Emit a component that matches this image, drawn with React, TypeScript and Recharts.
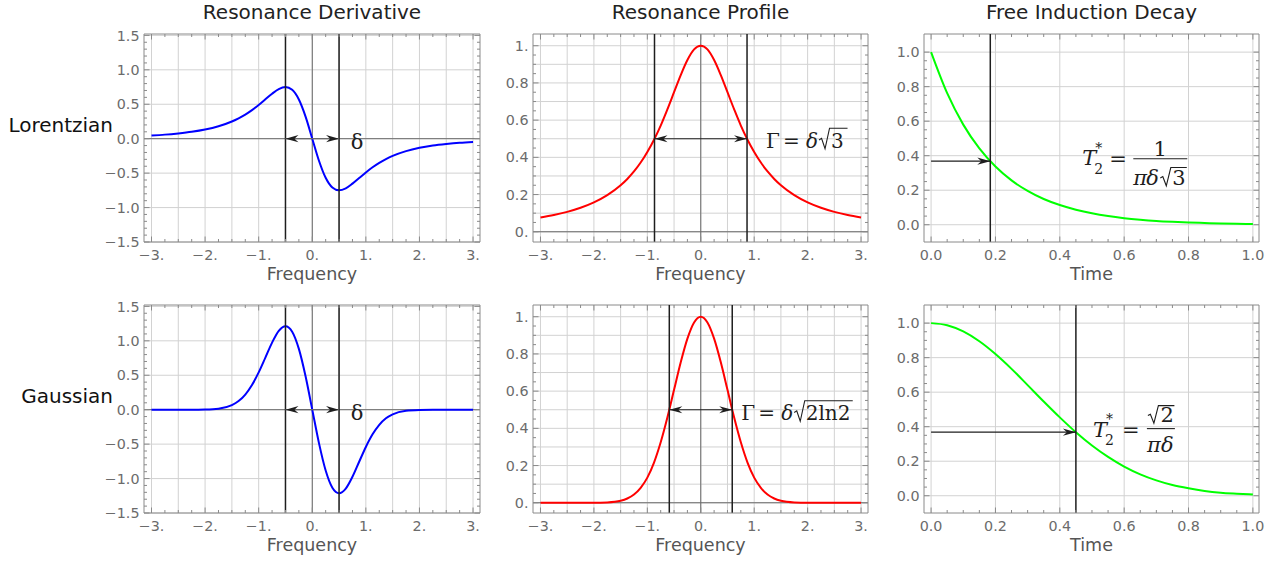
import { LineChart, Line, XAxis, YAxis, ReferenceLine, ReferenceDot } from 'recharts'

// frequency samples (denser near the resonance)
const freqX = [
  -3, -2.75, -2.5, -2.25, -2, -1.75, -1.5, -1.375, -1.25, -1.125, -1, -0.875, -0.75, -0.625, -0.5, -0.375, -0.25,
  -0.125, 0, 0.125, 0.25, 0.375, 0.5, 0.625, 0.75, 0.875, 1, 1.125, 1.25, 1.375, 1.5, 1.75, 2, 2.25, 2.5, 2.75, 3,
]
const lorentzDeriv = [
  0.047, 0.059, 0.077, 0.1, 0.133, 0.181, 0.25, 0.296, 0.35, 0.415, 0.49, 0.572, 0.653, 0.721, 0.75, 0.709, 0.568,
  0.32, 0, -0.32, -0.568, -0.709, -0.75, -0.721, -0.653, -0.572, -0.49, -0.415, -0.35, -0.296, -0.25, -0.181, -0.133,
  -0.1, -0.077, -0.059, -0.047,
]
const lorentzProfile = [
  0.077, 0.09, 0.107, 0.129, 0.158, 0.197, 0.25, 0.284, 0.324, 0.372, 0.429, 0.495, 0.571, 0.658, 0.75, 0.842, 0.923,
  0.98, 1, 0.98, 0.923, 0.842, 0.75, 0.658, 0.571, 0.495, 0.429, 0.372, 0.324, 0.284, 0.25, 0.197, 0.158, 0.129, 0.107,
  0.09, 0.077,
]
const gaussDeriv = [
  0, 0, 0, 0, 0.003, 0.015, 0.067, 0.125, 0.22, 0.358, 0.541, 0.756, 0.974, 1.145, 1.213, 1.133, 0.883, 0.485, 0,
  -0.485, -0.883, -1.133, -1.213, -1.145, -0.974, -0.756, -0.541, -0.358, -0.22, -0.125, -0.067, -0.015, -0.003, 0, 0,
  0, 0,
]
const gaussProfile = [
  0, 0, 0, 0, 0, 0.002, 0.011, 0.023, 0.044, 0.08, 0.135, 0.216, 0.325, 0.458, 0.607, 0.755, 0.882, 0.969, 1, 0.969,
  0.882, 0.755, 0.607, 0.458, 0.325, 0.216, 0.135, 0.08, 0.044, 0.023, 0.011, 0.002, 0, 0, 0, 0, 0,
]

const timeX = [0, 0.05, 0.1, 0.15, 0.2, 0.25, 0.3, 0.35, 0.4, 0.45, 0.5, 0.55, 0.6, 0.65, 0.7, 0.75, 0.8, 0.85, 0.9, 0.95, 1]
const fidLorentz = [
  1, 0.762, 0.58, 0.442, 0.337, 0.257, 0.196, 0.149, 0.114, 0.087, 0.066, 0.05, 0.038, 0.029, 0.022, 0.017, 0.013,
  0.01, 0.0075, 0.0057, 0.0043,
]
const fidGauss = [
  1, 0.988, 0.952, 0.895, 0.821, 0.735, 0.641, 0.546, 0.454, 0.368, 0.291, 0.225, 0.169, 0.124, 0.089, 0.062, 0.043,
  0.028, 0.018, 0.012, 0.007,
]

// marker positions
const derivPeak = 0.5
const lorentzHalfWidth = 0.866
const gaussHalfWidth = 0.589
const halfMax = 0.5
const t2Lorentz = 0.184
const t2Gauss = 0.45
const fidLevel = 0.368

const freqTicks = [-3, -2, -1, 0, 1, 2, 3]
const freqTickLabels = ['−3.', '−2.', '−1.', '0.', '1.', '2.', '3.']
const derivTicks = [-1.5, -1, -0.5, 0, 0.5, 1, 1.5]
const derivTickLabels = ['−1.5', '−1.0', '−0.5', '0.0', '0.5', '1.0', '1.5']
const profileTicks = [0, 0.2, 0.4, 0.6, 0.8, 1]
const profileTickLabels = ['0.', '0.2', '0.4', '0.6', '0.8', '1.']
const timeTicks = [0, 0.2, 0.4, 0.6, 0.8, 1]
const timeTickLabels = ['0.0', '0.2', '0.4', '0.6', '0.8', '1.0']

const titles = ['Resonance Derivative', 'Resonance Profile', 'Free Induction Decay']
const rowNames = ['Lorentzian', 'Gaussian']
const axisTitles = ['Frequency', 'Frequency', 'Time']

const SANS = '"DejaVu Sans", sans-serif'
const SERIF = '"DejaVu Serif", serif'
const FRAME = '#8a8a8a'
const GRID = '#d2d2d2'
const ORIGIN = '#6a6a6a'
const TICK_TEXT = '#6b6b6b'
const INK = '#1e1e1e'

const COLS = [
  { left: 144, width: 336 },
  { left: 533, width: 335 },
  { left: 924, width: 335 },
]
const ROWS = [
  { top: 34, height: 208 },
  { top: 305, height: 208 },
]
const PAD_L = 60
const PAD_R = 12
const PAD_T = 12
const PAD_B = 50

const steps = (lo: number, hi: number, step: number) => {
  const out: number[] = []
  const n = Math.round((hi - lo) / step)
  for (let k = 0; k <= n; k++) out.push(Math.round((lo + k * step) * 1000) / 1000)
  return out
}

const toPoints = (xs: number[], ys: number[]) => xs.map((x, i) => ({ x, y: ys[i] }))

// draws the inward tick on both opposite frame edges, plus the label for major ticks
function makeTick(side: 'bottom' | 'left', major: number[], labels: string[], span: number) {
  return (props: any) => {
    const { x, y, payload } = props
    const i = major.findIndex((m) => Math.abs(m - payload.value) < 1e-6)
    const len = i >= 0 ? 5.5 : 3
    const txt = { fontSize: 14.3, fontFamily: SANS, fill: TICK_TEXT }
    if (side === 'bottom')
      return (
        <g>
          <line x1={x} x2={x} y1={y} y2={y - len} stroke={FRAME} />
          <line x1={x} x2={x} y1={y - span} y2={y - span + len} stroke={FRAME} />
          {i >= 0 && (
            <text x={x} y={y + 18} textAnchor="middle" {...txt}>
              {labels[i]}
            </text>
          )}
        </g>
      )
    return (
      <g>
        <line x1={x} x2={x + len} y1={y} y2={y} stroke={FRAME} />
        <line x1={x + span} x2={x + span - len} y1={y} y2={y} stroke={FRAME} />
        {i >= 0 && (
          <text x={x - 4.5} y={y} dy="0.36em" textAnchor="end" {...txt}>
            {labels[i]}
          </text>
        )}
      </g>
    )
  }
}

const arrowHead = (tx: number, ty: number, dir: number) => {
  const L = 13
  const W = 3.6
  const N = 9
  return `${tx},${ty} ${tx - dir * L},${ty - W} ${tx - dir * N},${ty} ${tx - dir * L},${ty + W}`
}

const arrowShape = (lineColor: string, both: boolean) => (p: any) => (
  <g>
    <line x1={p.x1} y1={p.y1} x2={p.x2} y2={p.y2} stroke={lineColor} strokeWidth={1.2} />
    {both && <polygon points={arrowHead(p.x1, p.y1, -1)} fill={INK} />}
    <polygon points={arrowHead(p.x2, p.y2, 1)} fill={INK} />
  </g>
)

const radical = (x: number, y: number, h: number, w: number) =>
  `M ${x} ${y - h * 0.4} L ${x + 2.5} ${y - h * 0.48} L ${x + 6} ${y + 1} L ${x + 10.5} ${y - h} H ${x + 10.5 + w}`

function DeltaLabel({ cx, cy }: any) {
  return (
    <text x={cx + 18} y={cy + 10.5} textAnchor="middle" fontSize={21} fontFamily={SERIF} fill={INK}>
      δ
    </text>
  )
}

function GammaLorentz({ cx, cy }: any) {
  const x = cx + 19
  const y = cy + 9
  return (
    <g fontFamily={SERIF} fontSize={20} fill={INK}>
      <text x={x} y={y}>Γ</text>
      <text x={x + 17} y={y}>=</text>
      <text x={x + 40} y={y} fontStyle="italic">δ</text>
      <path d={radical(x + 53, y, 19.5, 18)} fill="none" stroke={INK} strokeWidth={1.1} />
      <text x={x + 65} y={y}>3</text>
    </g>
  )
}

function GammaGauss({ cx, cy }: any) {
  const x = cx + 9
  const y = cy + 10.5
  return (
    <g fontFamily={SERIF} fontSize={20} fill={INK}>
      <text x={x} y={y}>Γ</text>
      <text x={x + 17} y={y}>=</text>
      <text x={x + 40} y={y} fontStyle="italic">δ</text>
      <path d={radical(x + 53, y, 19.5, 48)} fill="none" stroke={INK} strokeWidth={1.1} />
      <text x={x + 64.5} y={y}>2ln2</text>
    </g>
  )
}

function T2Lorentz({ cx, cy }: any) {
  const x = cx
  const y = cy
  return (
    <g fontFamily={SERIF} fontSize={21} fill={INK}>
      <text x={x + 92} y={y + 3.6} fontStyle="italic">T</text>
      <text x={x + 104} y={y + 13} fontSize={14}>2</text>
      <text x={x + 105} y={y - 8} fontSize={14}>*</text>
      <text x={x + 119} y={y + 5}>=</text>
      <line x1={x + 143} x2={x + 197} y1={y - 2.4} y2={y - 2.4} stroke={INK} strokeWidth={1.1} />
      <text x={x + 170} y={y - 5.4} textAnchor="middle">1</text>
      <text x={x + 143} y={y + 23.6} fontStyle="italic">π</text>
      <text x={x + 156} y={y + 23.6} fontStyle="italic">δ</text>
      <path d={radical(x + 170, y + 23.6, 17.3, 16)} fill="none" stroke={INK} strokeWidth={1.1} />
      <text x={x + 182} y={y + 23.6}>3</text>
    </g>
  )
}

function T2Gauss({ cx, cy }: any) {
  const x = cx
  const y = cy
  return (
    <g fontFamily={SERIF} fontSize={21} fill={INK}>
      <text x={x + 17} y={y + 5} fontStyle="italic">T</text>
      <text x={x + 29} y={y + 13} fontSize={14}>2</text>
      <text x={x + 30} y={y - 8} fontSize={14}>*</text>
      <text x={x + 46} y={y + 5}>=</text>
      <line x1={x + 71} x2={x + 99} y1={y - 3.6} y2={y - 3.6} stroke={INK} strokeWidth={1.1} />
      <path d={radical(x + 72, y - 10, 16.6, 16)} fill="none" stroke={INK} strokeWidth={1.1} />
      <text x={x + 84.5} y={y - 10}>2</text>
      <text x={x + 71} y={y + 20} fontStyle="italic">π</text>
      <text x={x + 85} y={y + 20} fontStyle="italic">δ</text>
    </g>
  )
}

type PanelProps = {
  col: number
  row: number
  data: { x: number; y: number }[]
  color: string
  xDomain: [number, number]
  yDomain: [number, number]
  xMajor: number[]
  xLabels: string[]
  xMinor: number[]
  xGrid: number[]
  yMajor: number[]
  yLabels: string[]
  yMinor: number[]
  yGrid: number[]
  origin: boolean
  children?: any
}

function Panel(p: PanelProps) {
  const c = COLS[p.col]
  const r = ROWS[p.row]
  return (
    <div style={{ position: 'absolute', left: c.left - PAD_L, top: r.top - PAD_T }}>
      <LineChart
        width={c.width + PAD_L + PAD_R}
        height={r.height + PAD_T + PAD_B}
        data={p.data}
        margin={{ top: PAD_T, right: PAD_R, bottom: 0, left: 0 }}
      >
        <XAxis
          dataKey="x"
          type="number"
          domain={p.xDomain}
          allowDataOverflow
          ticks={p.xMinor}
          interval={0}
          tick={makeTick('bottom', p.xMajor, p.xLabels, r.height)}
          tickLine={false}
          tickSize={0}
          tickMargin={0}
          axisLine={{ stroke: FRAME }}
          height={PAD_B}
        />
        <YAxis
          type="number"
          domain={p.yDomain}
          allowDataOverflow
          ticks={p.yMinor}
          interval={0}
          tick={makeTick('left', p.yMajor, p.yLabels, c.width)}
          tickLine={false}
          tickSize={0}
          tickMargin={0}
          axisLine={{ stroke: FRAME }}
          width={PAD_L}
        />
        {p.xGrid.map((v) => (
          <ReferenceLine key={'gx' + v} x={v} stroke={GRID} />
        ))}
        {p.yGrid.map((v) => (
          <ReferenceLine key={'gy' + v} y={v} stroke={GRID} />
        ))}
        {p.origin && <ReferenceLine x={0} stroke={ORIGIN} />}
        {p.origin && <ReferenceLine y={0} stroke={ORIGIN} />}
        <ReferenceLine y={p.yDomain[1]} stroke={FRAME} />
        <ReferenceLine x={p.xDomain[1]} stroke={FRAME} />
        <Line
          dataKey="y"
          type="monotone"
          stroke={p.color}
          strokeWidth={2}
          dot={false}
          isAnimationActive={false}
        />
        {p.children}
      </LineChart>
    </div>
  )
}

const freqAxis = {
  xDomain: [-3.14, 3.13] as [number, number],
  xMajor: freqTicks,
  xLabels: freqTickLabels,
  xMinor: steps(-3, 3, 0.25),
  xGrid: steps(-3, 3, 0.5),
}
const derivAxis = {
  yDomain: [-1.5, 1.52] as [number, number],
  yMajor: derivTicks,
  yLabels: derivTickLabels,
  yMinor: steps(-1.5, 1.5, 0.1),
  yGrid: steps(-1.5, 1.5, 0.5),
}
const profileAxis = {
  yDomain: [-0.055, 1.063] as [number, number],
  yMajor: profileTicks,
  yLabels: profileTickLabels,
  yMinor: steps(0, 1, 0.05),
  yGrid: steps(0, 1, 0.1),
}
const timeAxis = {
  xDomain: [-0.022, 1.019] as [number, number],
  xMajor: timeTicks,
  xLabels: timeTickLabels,
  xMinor: steps(0, 1, 0.05),
  xGrid: steps(0, 1, 0.2),
  yDomain: [-0.1, 1.105] as [number, number],
  yMajor: timeTicks,
  yLabels: timeTickLabels,
  yMinor: steps(0, 1, 0.05),
  yGrid: steps(0, 1, 0.2),
}

const marker = (x: number) => <ReferenceLine key={'m' + x} x={x} stroke={INK} strokeWidth={1.5} />

export default function App() {
  return (
    <div style={{ position: 'absolute', left: 0, top: 0, width: 1272, height: 563, background: '#fff' }}>
      <svg width={1272} height={563} style={{ position: 'absolute', left: 0, top: 0 }}>
        {titles.map((t, i) => (
          <text
            key={t}
            x={COLS[i].left + COLS[i].width / 2}
            y={19}
            textAnchor="middle"
            fontSize={20}
            fontFamily={SANS}
            fill="#222"
          >
            {t}
          </text>
        ))}
        {rowNames.map((t, i) => (
          <text key={t} x={113} y={ROWS[i].top + 98} textAnchor="end" fontSize={20} fontFamily={SANS} fill="#111">
            {t}
          </text>
        ))}
        {ROWS.map((r, ri) =>
          axisTitles.map((t, ci) => (
            <text
              key={t + ri + ci}
              x={COLS[ci].left + COLS[ci].width / 2}
              y={r.top + r.height + 38}
              textAnchor="middle"
              fontSize={17.5}
              fontFamily={SANS}
              fill="#555"
            >
              {t}
            </text>
          ))
        )}
      </svg>

      <Panel col={0} row={0} data={toPoints(freqX, lorentzDeriv)} color="#0000ff" {...freqAxis} {...derivAxis} origin>
        {marker(-derivPeak)}
        {marker(derivPeak)}
        <ReferenceLine
          segment={[
            { x: -derivPeak, y: 0 },
            { x: derivPeak, y: 0 },
          ]}
          shape={arrowShape(ORIGIN, true)}
        />
        <ReferenceDot x={derivPeak} y={0} r={0} shape={(s: any) => <DeltaLabel {...s} />} />
      </Panel>

      <Panel col={1} row={0} data={toPoints(freqX, lorentzProfile)} color="#ff0000" {...freqAxis} {...profileAxis} origin>
        {marker(-lorentzHalfWidth)}
        {marker(lorentzHalfWidth)}
        <ReferenceLine
          segment={[
            { x: -lorentzHalfWidth, y: halfMax },
            { x: lorentzHalfWidth, y: halfMax },
          ]}
          shape={arrowShape(INK, true)}
        />
        <ReferenceDot x={lorentzHalfWidth} y={halfMax} r={0} shape={(s: any) => <GammaLorentz {...s} />} />
      </Panel>

      <Panel col={2} row={0} data={toPoints(timeX, fidLorentz)} color="#00ff00" {...timeAxis} origin={false}>
        {marker(t2Lorentz)}
        <ReferenceLine
          segment={[
            { x: 0, y: fidLevel },
            { x: t2Lorentz, y: fidLevel },
          ]}
          shape={arrowShape(INK, false)}
        />
        <ReferenceDot x={t2Lorentz} y={fidLevel} r={0} shape={(s: any) => <T2Lorentz {...s} />} />
      </Panel>

      <Panel col={0} row={1} data={toPoints(freqX, gaussDeriv)} color="#0000ff" {...freqAxis} {...derivAxis} origin>
        {marker(-derivPeak)}
        {marker(derivPeak)}
        <ReferenceLine
          segment={[
            { x: -derivPeak, y: 0 },
            { x: derivPeak, y: 0 },
          ]}
          shape={arrowShape(ORIGIN, true)}
        />
        <ReferenceDot x={derivPeak} y={0} r={0} shape={(s: any) => <DeltaLabel {...s} />} />
      </Panel>

      <Panel col={1} row={1} data={toPoints(freqX, gaussProfile)} color="#ff0000" {...freqAxis} {...profileAxis} origin>
        {marker(-gaussHalfWidth)}
        {marker(gaussHalfWidth)}
        <ReferenceLine
          segment={[
            { x: -gaussHalfWidth, y: halfMax },
            { x: gaussHalfWidth, y: halfMax },
          ]}
          shape={arrowShape(INK, true)}
        />
        <ReferenceDot x={gaussHalfWidth} y={halfMax} r={0} shape={(s: any) => <GammaGauss {...s} />} />
      </Panel>

      <Panel col={2} row={1} data={toPoints(timeX, fidGauss)} color="#00ff00" {...timeAxis} origin={false}>
        {marker(t2Gauss)}
        <ReferenceLine
          segment={[
            { x: 0, y: fidLevel },
            { x: t2Gauss, y: fidLevel },
          ]}
          shape={arrowShape(INK, false)}
        />
        <ReferenceDot x={t2Gauss} y={fidLevel} r={0} shape={(s: any) => <T2Gauss {...s} />} />
      </Panel>
    </div>
  )
}
